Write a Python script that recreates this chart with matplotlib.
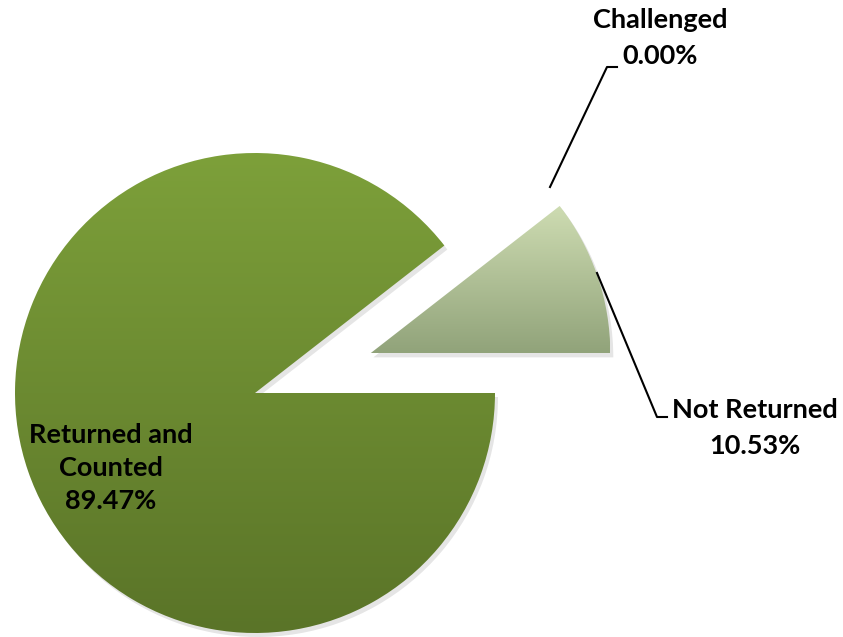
import numpy as np
import matplotlib.pyplot as plt
from matplotlib.patches import Wedge
from matplotlib.colors import LinearSegmentedColormap

# parts of the pie
labels = ['Not Returned', 'Challenged', 'Returned and\nCounted']
values = [10.53, 0.00, 89.47]
explode = [0.508, 0.0, 0.0]

# gradient colours (top, bottom)
grads = [('#cedcb2', '#91a37a'), ('#cedcb2', '#91a37a'), ('#7da03a', '#5a7428')]

W, H = 843, 637
fig = plt.figure(figsize=(W / 100, H / 100), dpi=100)
ax = fig.add_axes([0, 0, 1, 1])

cx, cy, R = 255, H - 393, 240

# pie() shifts wedges by explode in data units, so scale by the radius
wedges, _ = ax.pie(values, explode=[e * R for e in explode], startangle=0,
                   counterclock=True, center=(cx, cy), radius=R, frame=True,
                   wedgeprops=dict(linewidth=0))
ax.set_aspect('equal')
ax.axis('off')

for w, (top, bot) in zip(wedges, grads):
    if w.theta2 - w.theta1 <= 0:
        continue
    # soft shadow
    sh = Wedge((w.center[0] + 3, w.center[1] - 4), w.r, w.theta1, w.theta2,
               color='#000000', alpha=0.10, lw=0, zorder=0.5)
    ax.add_patch(sh)
    w.set_facecolor('none')
    cmap = LinearSegmentedColormap.from_list('g', [bot, top])
    ext = w.get_path().get_extents()
    grad = np.linspace(0, 1, 256).reshape(-1, 1)
    im = ax.imshow(grad, cmap=cmap, origin='lower', aspect='auto',
                   extent=(ext.x0, ext.x1, ext.y0, ext.y1), zorder=1)
    im.set_clip_path(w)

ax.set_xlim(0, W)
ax.set_ylim(0, H)

font = dict(family=['Lato', 'DejaVu Sans'], fontweight='bold', fontsize=19.5,
            color='black', ha='center', va='center')

# leader lines
ax.plot([550, 607, 617], [H - 187, H - 67, H - 67], color='black', lw=1.5)
ax.plot([597, 657, 667], [H - 273, H - 417, H - 417], color='black', lw=1.5)

ax.text(660, H - 38, '%s\n%.2f%%' % (labels[1], values[1]), linespacing=1.6, **font)
ax.text(755, H - 428, '%s\n%.2f%%' % (labels[0], values[0]), linespacing=1.6, **font)
ax.text(111, H - 468, '%s\n%.2f%%' % (labels[2], values[2]), linespacing=1.47, **font)

fig.savefig('out.png', dpi=100)
